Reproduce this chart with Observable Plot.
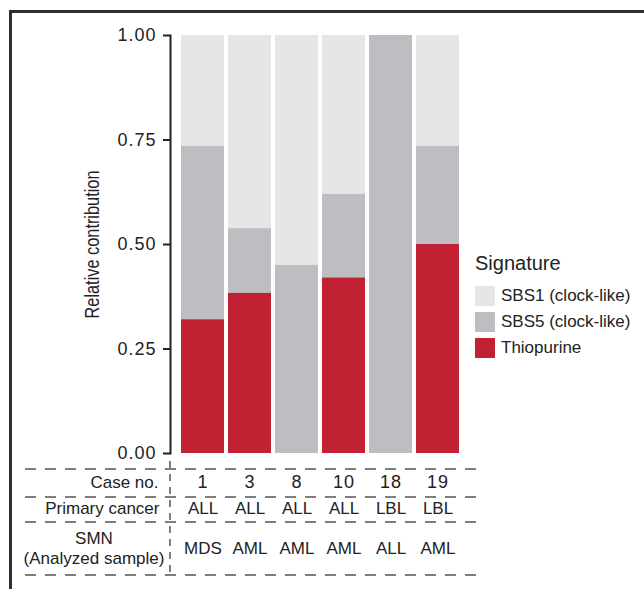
<!DOCTYPE html>
<html>
<head>
<meta charset="utf-8">
<script src="https://cdn.jsdelivr.net/npm/d3@7"></script>
<script src="https://cdn.jsdelivr.net/npm/@observablehq/plot@0.6"></script>
<style>
  body { margin: 0; background: #fff; }
  #wrap { position: relative; width: 644px; height: 589px; overflow: hidden; font-family: "Liberation Sans", Arial, sans-serif; color: #222; }
  #frame { position: absolute; left: 9px; top: 10px; width: 800px; height: 800px; border-left: 3px solid #2e2e2e; border-top: 3px solid #2e2e2e; }
  #chart { position: absolute; left: 0; top: 0; }
  #chart svg [aria-label="y-axis tick label"] text { letter-spacing: 1px; }
  #chart svg .casenum text { letter-spacing: 1px; }
  #legend { position: absolute; left: 475px; top: 252px; }
  #legend .title { font-size: 20px; line-height: 23px; margin-bottom: 11px; }
  #legend .item { display: flex; align-items: center; height: 20px; margin-bottom: 6px; font-size: 17px; }
  #legend .sw { width: 20px; height: 20px; margin-right: 6px; }
</style>
</head>
<body>
<div id="wrap">
  <div id="frame"></div>
  <div id="chart"></div>
  <div id="legend"></div>
</div>
<script>
// ---- data ----
const cases = ["1", "3", "8", "10", "18", "19"];
const primaryCancer = ["ALL", "ALL", "ALL", "ALL", "LBL", "LBL"];
const smn = ["MDS", "AML", "AML", "AML", "ALL", "AML"];
const signatures = ["SBS1 (clock-like)", "SBS5 (clock-like)", "Thiopurine"];
const sbs1 = [0.265, 0.462, 0.55, 0.38, 0.0, 0.265];
const sbs5 = [0.415, 0.155, 0.45, 0.20, 1.0, 0.235];
const thiopurine = [0.32, 0.383, 0.0, 0.42, 0.0, 0.50];
const colors = ["#e6e6e6", "#bebdc2", "#c22033"];
const rowLabels = ["Case no.", "Primary cancer", "SMN\n(Analyzed sample)"];
const yTicks = [0, 0.25, 0.5, 0.75, 1];
const yLabel = "Relative contribution";
const legendTitle = "Signature";

// ---- build table ----
const seriesValues = [sbs1, sbs5, thiopurine];
const data = [];
cases.forEach((c, i) => {
  signatures.forEach((s, j) => data.push({ case: c, signature: s, value: seriesValues[j][i] }));
});
const rows = cases.map((c, i) => ({ case: c, primary: primaryCancer[i], smn: smn[i] }));
const smnLines = rowLabels[2].split("\n");

function tableLines(index, scales, values, dims) {
  const g = d3.create("svg:g").attr("fill", "none").attr("stroke", "#555").attr("stroke-width", 1.5);
  const y0 = scales.y(0);
  for (const off of [16, 44, 69, 122]) {
    g.append("line").attr("x1", 25).attr("x2", 478).attr("y1", y0 + off).attr("y2", y0 + off)
      .attr("stroke-dasharray", "11,9");
  }
  g.append("line").attr("x1", dims.marginLeft).attr("x2", dims.marginLeft)
    .attr("y1", y0 + 8).attr("y2", y0 + 123).attr("stroke-dasharray", "7,6");
  return g.node();
}

const txt = { fontSize: 17, fill: "#222" };

const plot = Plot.plot({
  width: 644,
  height: 589,
  marginLeft: 170,
  marginRight: 183,
  marginTop: 35,
  marginBottom: 136,
  style: { fontFamily: "Liberation Sans, Arial, sans-serif", fontSize: "17px", color: "#222", background: "transparent", overflow: "visible" },
  x: { domain: cases, range: [179, 461], padding: 0, axis: null },
  y: { domain: [0, 1], axis: null },
  color: { domain: signatures, range: colors },
  marks: [
    Plot.barY(data, { x: "case", y: "value", fill: "signature", order: [...signatures].reverse(), insetLeft: 2, insetRight: 2 }),
    Plot.frame({ anchor: "left", stroke: "#222", strokeWidth: 2 }),
    Plot.axisY({ ticks: yTicks, tickFormat: d3.format(".2f"), tickSize: 7, tickPadding: 7, label: null, fontSize: 18, stroke: "#222", strokeWidth: 2, fill: "#222" }),
    Plot.text([yLabel], { frameAnchor: "left", textAnchor: "middle", rotate: -90, dx: -78, fontSize: 21, fill: "#222", className: "ylabel" }),
    tableLines,
    Plot.text(rows, { x: "case", text: "case", frameAnchor: "bottom", dy: 34, fontSize: 18, fill: "#222", className: "casenum" }),
    Plot.text(rows, { x: "case", text: "primary", frameAnchor: "bottom", dy: 60, ...txt }),
    Plot.text(rows, { x: "case", text: "smn", frameAnchor: "bottom", dy: 100, ...txt }),
    Plot.text([rowLabels[0]], { frameAnchor: "bottom-left", dx: -12, dy: 34, textAnchor: "end", ...txt }),
    Plot.text([rowLabels[1]], { frameAnchor: "bottom-left", dx: -11, dy: 60, textAnchor: "end", ...txt }),
    Plot.text([smnLines[0]], { frameAnchor: "bottom-left", dx: -76.5, dy: 90, textAnchor: "middle", ...txt }),
    Plot.text([smnLines[1]], { frameAnchor: "bottom-left", dx: -76.5, dy: 110, textAnchor: "middle", ...txt })
  ]
});
document.getElementById("chart").appendChild(plot);
d3.select(plot).selectAll(".ylabel text").attr("textLength", 148).attr("lengthAdjust", "spacingAndGlyphs");

// ---- legend ----
const legend = d3.select("#legend");
legend.append("div").attr("class", "title").text(legendTitle);
signatures.forEach((s, i) => {
  const item = legend.append("div").attr("class", "item");
  item.append("div").attr("class", "sw").style("background", colors[i]);
  item.append("span").text(s);
});
</script>
</body>
</html>
